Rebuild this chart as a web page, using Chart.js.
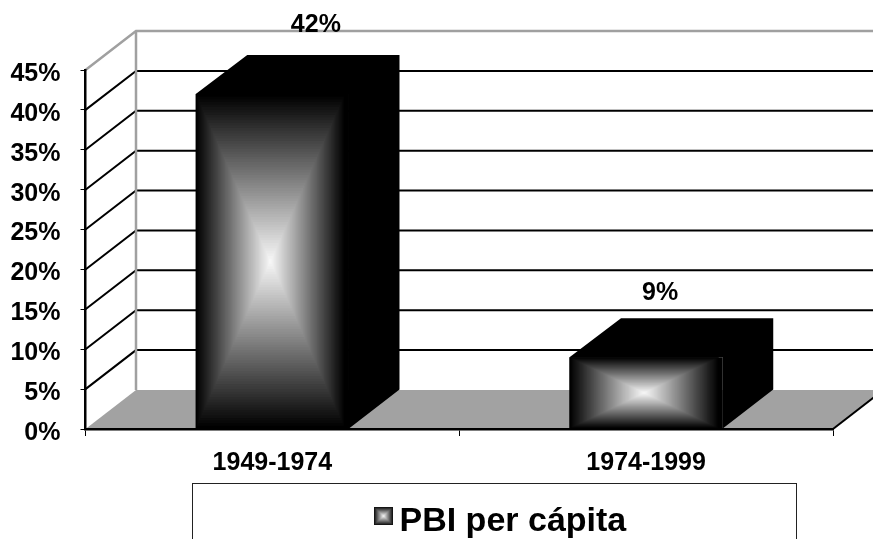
<!DOCTYPE html>
<html>
<head>
<meta charset="utf-8">
<style>html,body{margin:0;padding:0;background:#fff}canvas{display:block}</style>
<script src="https://cdn.jsdelivr.net/npm/chart.js@4"></script>
</head>
<body>
<canvas id="c" width="873" height="539"></canvas>
<script>
const categories = ['1949-1974', '1974-1999'];
const seriesName = 'PBI per cápita';
const values = [42, 9];
const yTicksMax = 45;
const yTicksStep = 5;
const labelDx = [43.5, 14];
const labelDy = [-69, -64];

const DX = 50.5, DY = 39;
const FONT = 'bold 25px "Liberation Sans", Arial, sans-serif';

// rectangular "path" gradient: concentric rectangles, dark at the rim, light in the middle
function pyramid(ctx, x, y, w, h, from, to, steps) {
  for (let i = 0; i < steps; i++) {
    const t = i / steps;
    const g = Math.round(from + (to - from) * (i / (steps - 1)));
    ctx.fillStyle = 'rgb(' + g + ',' + g + ',' + g + ')';
    ctx.fillRect(x + t * w / 2, y + t * h / 2, w * (1 - t), h * (1 - t));
  }
}

const bars3d = {
  id: 'bars3d',
  beforeDraw(chart) {
    const { ctx, chartArea: a, scales: { y } } = chart;
    ctx.save();
    // floor
    ctx.fillStyle = '#a2a2a2';
    ctx.beginPath();
    ctx.moveTo(a.left, a.bottom);
    ctx.lineTo(a.left + DX, a.bottom - DY);
    ctx.lineTo(a.right + DX, a.bottom - DY);
    ctx.lineTo(a.right, a.bottom);
    ctx.closePath();
    ctx.fill();
    // gridlines on back wall and side wall
    y.ticks.forEach(t => {
      const p = y.getPixelForValue(t.value);
      if (t.value === 0) return;
      const top = t.value === yTicksMax;
      ctx.lineWidth = top ? 2.5 : 2;
      ctx.strokeStyle = top ? '#a0a0a0' : '#000';
      ctx.beginPath();
      ctx.moveTo(a.left, p);
      ctx.lineTo(a.left + DX, p - DY);
      ctx.lineTo(a.right + DX, p - DY);
      ctx.stroke();
    });
    // back wall left edge
    ctx.strokeStyle = '#a0a0a0';
    ctx.lineWidth = 2.5;
    ctx.beginPath();
    ctx.moveTo(a.left + DX, a.top - DY);
    ctx.lineTo(a.left + DX, a.bottom - DY);
    ctx.stroke();
    // right floor edge
    ctx.strokeStyle = '#000';
    ctx.lineWidth = 2;
    ctx.beginPath();
    ctx.moveTo(a.right, a.bottom);
    ctx.lineTo(a.right + DX, a.bottom - DY);
    ctx.stroke();
    // legend frame
    ctx.strokeStyle = '#222';
    ctx.lineWidth = 1;
    ctx.strokeRect(192.5, 483.5, 604, 80);
    ctx.restore();
    // legend placement
    const l = chart.legend;
    l.left = 382.5; l.right = 790; l.top = 505; l.bottom = 539;
  },
  afterDatasetsDraw(chart) {
    const { ctx } = chart;
    const meta = chart.getDatasetMeta(0);
    meta.data.forEach(el => {
      const x = el.x - el.width / 2, w = el.width, top = el.y, base = el.base;
      ctx.save();
      ctx.fillStyle = '#000';
      ctx.beginPath();
      ctx.moveTo(x, top);
      ctx.lineTo(x + DX + 1, top - DY);
      ctx.lineTo(x + w + DX, top - DY);
      ctx.lineTo(x + w + DX, base - DY);
      ctx.lineTo(x + w, base);
      ctx.lineTo(x + w, top);
      ctx.closePath();
      ctx.fill();
      pyramid(ctx, x, top, w - 4, base - top, 0, 246, 64);
      ctx.restore();
    });
  },
  afterDraw(chart) {
    const { ctx } = chart;
    const meta = chart.getDatasetMeta(0);
    ctx.save();
    ctx.font = FONT;
    ctx.fillStyle = '#000';
    ctx.textAlign = 'center';
    ctx.textBaseline = 'middle';
    meta.data.forEach((el, i) => {
      ctx.fillText(values[i] + '%', el.x + labelDx[i], el.y + labelDy[i]);
    });
    // legend swatch
    pyramid(ctx, 374, 507, 19, 18, 20, 235, 10);
    ctx.restore();
  }
};

new Chart(document.getElementById('c'), {
  type: 'bar',
  data: {
    labels: categories,
    datasets: [{
      label: seriesName,
      data: values,
      backgroundColor: '#000',
      borderWidth: 0,
      barPercentage: 0.41,
      categoryPercentage: 1
    }]
  },
  plugins: [bars3d],
  options: {
    responsive: false,
    animation: false,
    layout: { padding: { top: 70, right: 40, left: 0, bottom: 0 } },
    plugins: {
      tooltip: { enabled: false },
      title: { display: false },
      legend: {
        display: true,
        position: 'chartArea',
        align: 'start',
        onClick: null,
        labels: {
          boxWidth: 0,
          boxHeight: 0,
          padding: 0,
          color: '#000',
          font: { family: '"Liberation Sans", Arial, sans-serif', size: 34, weight: 'bold' },
          generateLabels: () => [{ text: seriesName, fillStyle: 'rgba(0,0,0,0)', strokeStyle: 'rgba(0,0,0,0)', lineWidth: 0, datasetIndex: 0 }]
        }
      }
    },
    scales: {
      x: {
        afterFit(s) { s.height = 110; },
        grid: { offset: true, drawOnChartArea: false, tickLength: 7, color: '#000', lineWidth: 1 },
        border: { color: '#000', width: 2.5 },
        ticks: {
          color: '#000', padding: 12, maxRotation: 0, autoSkip: false,
          font: { family: '"Liberation Sans", Arial, sans-serif', size: 25, weight: 'bold' }
        }
      },
      y: {
        min: 0,
        max: yTicksMax,
        afterFit(s) { s.width = 85.5; },
        grid: { drawOnChartArea: false, tickLength: 5, color: '#000', lineWidth: 1 },
        border: { color: '#000', width: 2.5 },
        ticks: {
          stepSize: yTicksStep, color: '#000', padding: 20, labelOffset: 4,
          callback: v => v + '%',
          font: { family: '"Liberation Sans", Arial, sans-serif', size: 25, weight: 'bold' }
        }
      }
    }
  }
});
</script>
</body>
</html>
